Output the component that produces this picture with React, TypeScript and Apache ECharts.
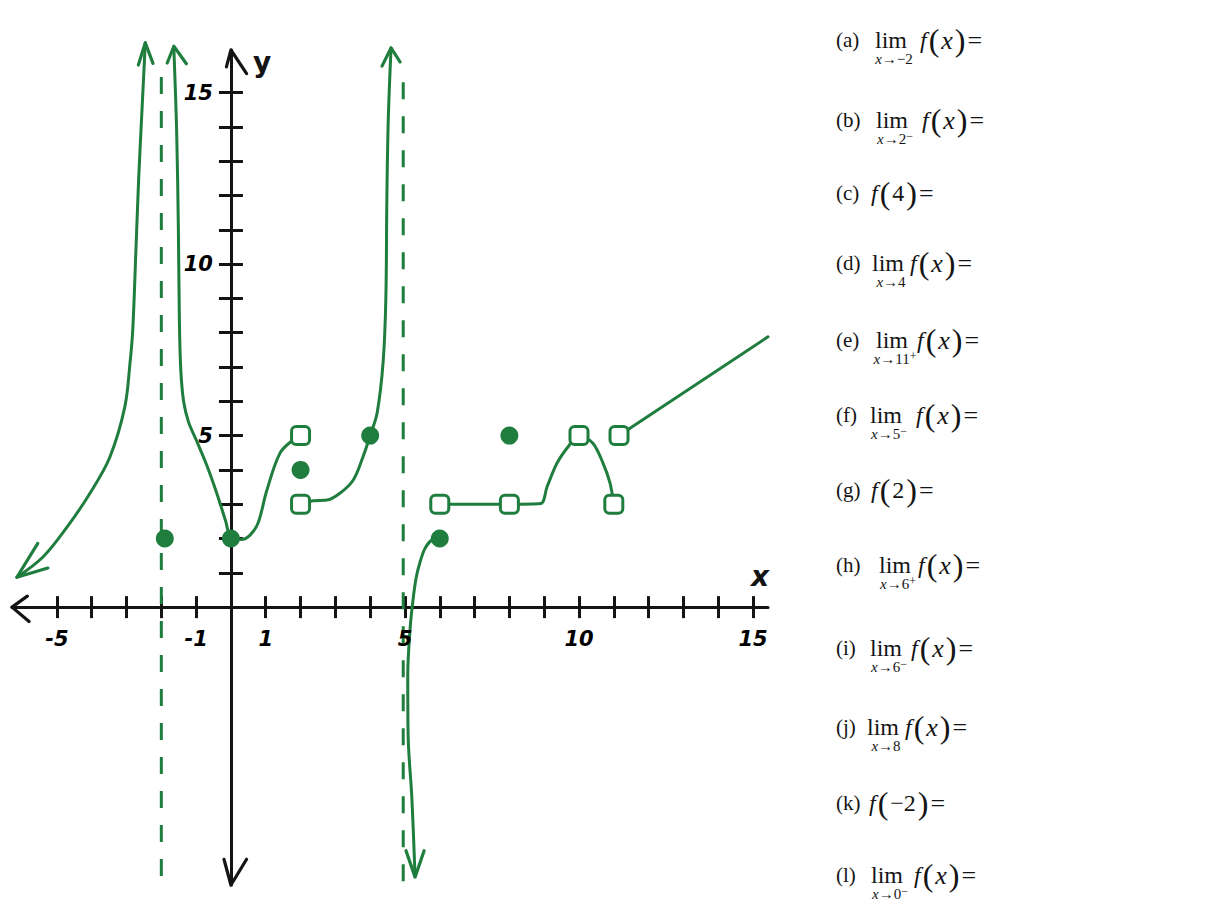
import React, { useEffect, useRef } from "react";
import * as echarts from "echarts";

const GREEN = "#1f7d3d";
const INK = "#141414";

// Axis extents in data units (arrow tip to arrow tip)
const X_MIN = -6.29;
const X_MAX = 15.43;
const Y_MIN = -8.1;
const Y_MAX = 16.24;

// Ticks and tick labels
const xTickValues = [-5, -4, -3, -2, -1, 1, 2, 3, 4, 5, 6, 7, 8, 9, 10, 11, 12, 13, 14, 15];
const xLabelValues = [-5, -1, 1, 5, 10, 15];
const yTickValues = [1, 2, 3, 4, 5, 6, 7, 8, 9, 10, 11, 12, 13, 14, 15];
const yLabelValues = [5, 10, 15];

// Branch left of the asymptote x = -2
const branchLeft: number[][] = [
  [-6.15, 0.87], [-5.4, 1.46], [-4.71, 2.33], [-4.05, 3.32], [-3.48, 4.37],
  [-3.05, 5.83], [-2.9, 7.11], [-2.82, 8.1], [-2.73, 10.4], [-2.65, 12.5],
  [-2.55, 14.6], [-2.46, 16.45],
];
// Branch between x = -2 and the hole at (2, 5)
const branchMiddle: number[][] = [
  [-1.64, 16.3], [-1.56, 13.9], [-1.51, 11.0], [-1.48, 8.3], [-1.44, 6.9],
  [-1.36, 6.0], [-1.22, 5.4], [-1.0, 4.88], [-0.7, 4.15], [-0.4, 3.3],
  [-0.15, 2.5], [0, 2.03], [0.3, 1.97], [0.55, 2.1], [0.78, 2.45],
  [1.03, 3.4], [1.41, 4.49], [1.78, 4.87], [2, 5],
];
// Branch from the hole at (2, 3) up the asymptote x = 5
const branchRise: number[][] = [
  [2, 3], [2.36, 3.1], [2.76, 3.12], [3.13, 3.32], [3.51, 3.7], [3.79, 4.37],
  [4, 5], [4.2, 5.66], [4.37, 7.11], [4.45, 8.95], [4.48, 11.9], [4.52, 14.2],
  [4.6, 16.3],
];
// Branch coming up from below on the right of x = 5
const branchRight: number[][] = [
  [5.29, -7.85], [5.2, -5.6], [5.09, -3.7], [5.08, -2.0], [5.15, -0.6],
  [5.23, 0.2], [5.32, 0.85], [5.43, 1.3], [5.58, 1.72], [5.78, 1.96], [6, 2],
];
// Flat piece and hump from x = 6 to x = 11
const plateauHump: number[][] = [
  [6, 3], [7, 3], [8, 3], [8.9, 3.02], [9.08, 3.5], [9.37, 4.2], [9.72, 4.72],
  [10, 5], [10.4, 4.78], [10.69, 4.2], [10.89, 3.62], [11, 3],
];
// Ray to the right of x = 11
const rayRight: number[][] = [[11.15, 5], [15.43, 7.88]];

// Vertical asymptotes
const asymptoteLeft: number[][] = [[-2, 15.45], [-2, -7.95]];
const asymptoteRight: number[][] = [[4.95, 15.3], [4.95, -8.3]];

// Closed and open points
const filledPoints: number[][] = [[-1.9, 2], [0, 2], [2, 4], [4, 5], [6, 2], [8, 5]];
const openPoints: number[][] = [[2, 5], [2, 3], [6, 3], [8, 3], [10, 5], [11, 3], [11.15, 5]];

// Arrowheads at the ends of the curves
const curveArrowheads: number[][][] = [
  [[-5.55, 1.86], [-6.15, 0.87], [-5.26, 1.14]],
  [[-2.66, 15.8], [-2.46, 16.45], [-2.24, 15.85]],
  [[-1.83, 15.86], [-1.64, 16.35], [-1.28, 15.84]],
  [[4.34, 15.77], [4.6, 16.3], [4.86, 15.89]],
  [[5.03, -7.1], [5.29, -7.87], [5.55, -7.1]],
];
// Arrowheads at the ends of the axes
const axisArrowheads: number[][][] = [
  [[-5.85, 0.32], [-6.29, 0], [-5.8, -0.42]],
  [[-0.13, 15.75], [0.0, 16.24], [0.45, 15.55]],
  [[-0.2, -7.35], [0.0, -8.1], [0.45, -7.35]],
];

// Questions listed beside the graph
const questionTags = ["(a)", "(b)", "(c)", "(d)", "(e)", "(f)", "(g)", "(h)", "(i)", "(j)", "(k)", "(l)"];
const questionApproach = ["−2", "2", "", "4", "11", "5", "", "6", "6", "8", "", "0"];
const questionSide = ["", "−", "", "", "+", "−", "", "+", "−", "", "", "−"];
const questionArg = ["x", "x", "4", "x", "x", "x", "2", "x", "x", "x", "−2", "x"];

// Layout of the question column
const rowY = [40, 120, 193, 263, 340, 415, 490, 565, 648, 727, 803, 875];
const limCenterX = [891, 892, 0, 888, 892, 886, 0, 895, 886, 883, 0, 887];
const exprX = [920, 922, 871, 910, 917, 916, 871, 918, 911, 905, 869, 914];

const SERIF = '"Liberation Serif", "Times New Roman", serif';
const HAND = '"DejaVu Sans", sans-serif';

function buildGraphics(): any[] {
  const els: any[] = [];
  const richExpr = {
    f: { fontFamily: SERIF, fontSize: 24, fontStyle: "italic", fill: INK, color: INK },
    p: { fontFamily: SERIF, fontSize: 32, fill: INK, color: INK, padding: [0, 2, 0, 2] },
    v: { fontFamily: SERIF, fontSize: 26, fontStyle: "italic", fill: INK, color: INK },
    n: { fontFamily: SERIF, fontSize: 24, fill: INK, color: INK },
    e: { fontFamily: SERIF, fontSize: 26, fill: INK, color: INK },
  };
  const richSub = {
    xi: { fontFamily: SERIF, fontSize: 15, fontStyle: "italic", fill: INK, color: INK, lineHeight: 18 },
    s: { fontFamily: SERIF, fontSize: 15, fill: INK, color: INK, lineHeight: 18 },
    sup: { fontFamily: SERIF, fontSize: 12, fill: INK, color: INK, lineHeight: 12, verticalAlign: "top" },
  };
  questionTags.forEach((tag, i) => {
    const y = rowY[i];
    els.push({
      type: "text",
      x: 836,
      y,
      style: { text: tag, fontFamily: SERIF, fontSize: 21, fill: INK, align: "left", verticalAlign: "middle" },
    });
    if (questionApproach[i]) {
      els.push({
        type: "text",
        x: limCenterX[i],
        y,
        style: { text: "lim", fontFamily: SERIF, fontSize: 24, fill: INK, align: "center", verticalAlign: "middle" },
      });
      const sub =
        "{xi|x}{s|→" + questionApproach[i] + "}" + (questionSide[i] ? "{sup|" + questionSide[i] + "}" : "");
      els.push({
        type: "text",
        x: limCenterX[i] + 3,
        y: y + 19,
        style: { text: sub, rich: richSub, align: "center", verticalAlign: "middle" },
      });
    }
    const argStyle = questionArg[i] === "x" ? "v" : "n";
    els.push({
      type: "text",
      x: exprX[i],
      y,
      style: {
        text: "{f|f}{p|(}{" + argStyle + "|" + questionArg[i] + "}{p|)}{e|=}",
        rich: richExpr,
        align: "left",
        verticalAlign: "middle",
      },
    });
  });
  // Axis names
  els.push({
    type: "text",
    x: 262,
    y: 62,
    style: { text: "y", fontFamily: HAND, fontSize: 28, fontWeight: "bold", fill: INK, align: "center", verticalAlign: "middle" },
  });
  els.push({
    type: "text",
    x: 760,
    y: 576,
    style: { text: "x", fontFamily: HAND, fontSize: 28, fontStyle: "italic", fontWeight: "bold", fill: INK, align: "center", verticalAlign: "middle" },
  });
  return els;
}

function curve(data: number[][], extra: any = {}): any {
  return {
    type: "line",
    data,
    smooth: 0.35,
    symbol: "none",
    showSymbol: false,
    clip: false,
    silent: true,
    z: 3,
    lineStyle: { color: GREEN, width: 3, cap: "round", join: "round" },
    ...extra,
  };
}

function chevron(data: number[][], color: string): any {
  return {
    type: "line",
    data,
    smooth: false,
    symbol: "none",
    showSymbol: false,
    clip: false,
    silent: true,
    z: 4,
    lineStyle: { color, width: 3.2, cap: "round", join: "round" },
  };
}

const labelStyle = {
  fontFamily: HAND,
  fontSize: 21,
  fontWeight: "bold",
  fontStyle: "italic",
  color: "#000000",
  opacity: 1,
  textBorderWidth: 0,
};

// Tick labels placed next to the axes at their data positions
function tickLabelSeries(data: number[][], position: string, distance: number, pick: number): any {
  return {
    type: "scatter",
    data,
    symbol: "circle",
    symbolSize: 2,
    silent: true,
    z: 5,
    itemStyle: { color: "rgba(0,0,0,0)" },
    label: {
      show: true,
      position,
      distance,
      formatter: (p: any) => String(p.value[pick]),
      ...labelStyle,
    },
    labelLayout: { hideOverlap: false },
  };
}

export default function App() {
  const ref = useRef<HTMLDivElement>(null);

  useEffect(() => {
    if (!ref.current) return;
    const chart = echarts.init(ref.current, undefined, { renderer: "svg" });

    const tickStyle = { color: INK, width: 3 };

    const option: any = {
      animation: false,
      backgroundColor: "#ffffff",
      grid: {
        left: 12,
        top: 50,
        width: 756,
        height: 835,
        outerBoundsMode: "none",
        containLabel: false,
      },
      xAxis: [
        {
          type: "value",
          min: X_MIN,
          max: X_MAX,
          position: "bottom",
          splitLine: { show: false },
          axisLine: { show: true, onZero: true, onZeroAxisIndex: 0, lineStyle: { color: INK, width: 3 } },
          axisTick: { show: true, customValues: xTickValues, length: 11, lineStyle: tickStyle },
          axisLabel: { show: false },
        },
        {
          type: "value",
          min: X_MIN,
          max: X_MAX,
          position: "top",
          splitLine: { show: false },
          axisLine: { show: false, onZero: true, onZeroAxisIndex: 0 },
          axisTick: { show: true, customValues: xTickValues, length: 11, lineStyle: tickStyle },
          axisLabel: { show: false },
        },
      ],
      yAxis: [
        {
          type: "value",
          min: Y_MIN,
          max: Y_MAX,
          position: "left",
          splitLine: { show: false },
          axisLine: { show: true, onZero: true, onZeroAxisIndex: 0, lineStyle: { color: INK, width: 3 } },
          axisTick: { show: true, customValues: yTickValues, length: 12, lineStyle: tickStyle },
          axisLabel: { show: false },
        },
        {
          type: "value",
          min: Y_MIN,
          max: Y_MAX,
          position: "right",
          splitLine: { show: false },
          axisLine: { show: false, onZero: true, onZeroAxisIndex: 0 },
          axisTick: { show: true, customValues: yTickValues, length: 12, lineStyle: tickStyle },
          axisLabel: { show: false },
        },
      ],
      series: [
        curve(asymptoteLeft, { smooth: false, z: 2, lineStyle: { color: GREEN, width: 3, type: [17, 17] } }),
        curve(asymptoteRight, { smooth: false, z: 2, lineStyle: { color: GREEN, width: 3, type: [17, 17] } }),
        curve(branchLeft),
        curve(branchMiddle),
        curve(branchRise),
        curve(branchRight),
        curve(plateauHump, { smooth: 0.3 }),
        curve(rayRight, { smooth: false }),
        ...curveArrowheads.map((a) => chevron(a, GREEN)),
        ...axisArrowheads.map((a) => chevron(a, INK)),
        {
          type: "scatter",
          data: filledPoints,
          symbol: "circle",
          symbolSize: 18,
          silent: true,
          z: 6,
          itemStyle: { color: GREEN, opacity: 1 },
        },
        {
          type: "scatter",
          data: openPoints,
          symbol: "roundRect",
          symbolSize: 18,
          silent: true,
          z: 7,
          itemStyle: { color: "#ffffff", borderColor: GREEN, borderWidth: 3, opacity: 1 },
        },
        tickLabelSeries(xLabelValues.map((v) => [v, 0]), "bottom", 20, 0),
        tickLabelSeries(yLabelValues.map((v) => [0, v]), "left", 17, 1),
      ],
      graphic: buildGraphics(),
    };

    chart.setOption(option);
    return () => {
      chart.dispose();
    };
  }, []);

  return (
    <div
      ref={ref}
      style={{ position: "absolute", left: 0, top: 0, width: 1225, height: 920, background: "#fff" }}
    />
  );
}
